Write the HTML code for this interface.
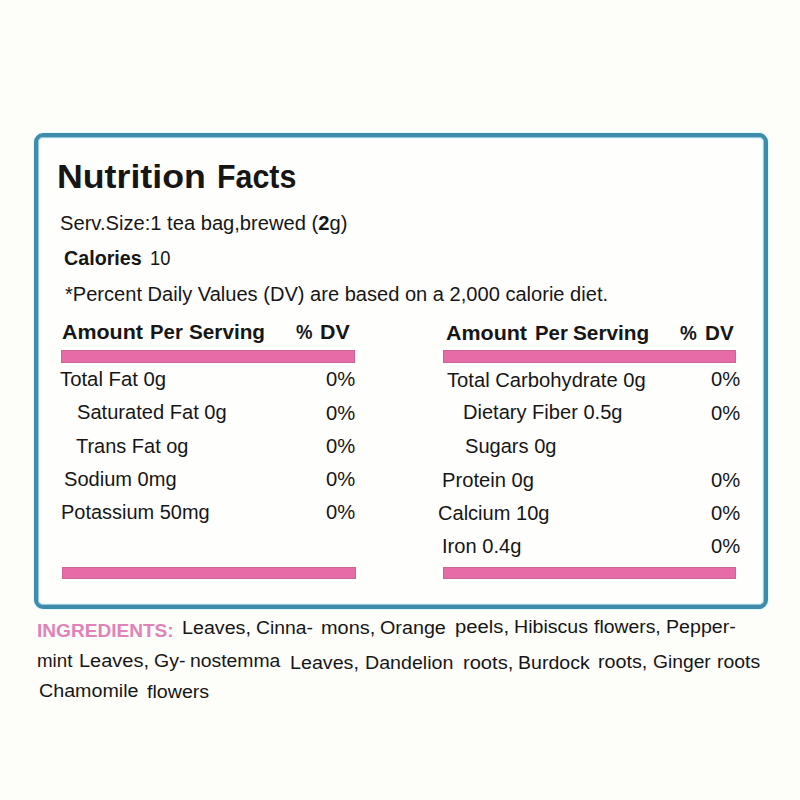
<!DOCTYPE html><html><head><meta charset="utf-8"><style>
html,body{margin:0;padding:0;width:800px;height:800px;overflow:hidden;background:#fdfdfa;}
body{position:relative;font-family:"Liberation Sans",sans-serif;}
.t{position:absolute;white-space:pre;transform-origin:0 0;}
.r{position:absolute;box-shadow:inset 0 0 0 1px rgba(140,90,115,0.3);}
.box{position:absolute;left:34px;top:133px;width:726px;height:468px;border:4px solid #3f8bab;border-radius:9px;background:#fefefd;box-shadow:0 0 0 1px rgba(210,248,255,0.7), inset 0 0 0 1px rgba(66,137,168,0.45), inset 0 0 0 2px rgba(210,248,255,0.6);}
</style></head><body>
<div class="box"></div>
<div class="r" style="left:61.4px;top:350.0px;width:293.6px;height:12.7px;background:#e76ba6"></div>
<div class="r" style="left:443.3px;top:350.0px;width:292.6px;height:12.8px;background:#e76ba6"></div>
<div class="r" style="left:62.4px;top:566.8px;width:293.5px;height:12.4px;background:#e76ba6"></div>
<div class="r" style="left:443.1px;top:566.8px;width:292.8px;height:12.5px;background:#e76ba6"></div>
<div class="t" id="titlea" style="left:56.87px;top:160.04px;font-size:33.50px;line-height:33.50px;font-weight:700;color:#161616;transform:scaleX(1.0662)">Nutrition</div>
<div class="t" id="titleb" style="left:217.19px;top:160.04px;font-size:33.50px;line-height:33.50px;font-weight:700;color:#161616;transform:scaleX(0.9064)">Facts</div>
<div class="t" id="serv" style="left:60.00px;top:212.57px;font-size:20.00px;line-height:20.00px;font-weight:400;color:#161616;transform:scaleX(1.0070)">Serv.Size:1 tea bag,brewed (<b>2</b>g)</div>
<div class="t" id="cala" style="left:64.21px;top:247.57px;font-size:20.00px;line-height:20.00px;font-weight:700;color:#161616;transform:scaleX(0.9847)">Calories</div>
<div class="t" id="calb" style="left:149.50px;top:247.57px;font-size:20.00px;line-height:20.00px;font-weight:400;color:#161616;transform:scaleX(0.9127)">10</div>
<div class="t" id="pct" style="left:65.00px;top:284.47px;font-size:20.00px;line-height:20.00px;font-weight:400;color:#161616;transform:scaleX(1.0037)">*Percent Daily Values (DV) are based on a 2,000 calorie diet.</div>
<div class="t" id="aps1a" style="left:62.00px;top:321.87px;font-size:20.00px;line-height:20.00px;font-weight:700;color:#161616;transform:scaleX(1.0713)">Amount</div>
<div class="t" id="aps1b" style="left:149.97px;top:321.87px;font-size:20.00px;line-height:20.00px;font-weight:700;color:#161616;transform:scaleX(1.0172)">Per</div>
<div class="t" id="aps1c" style="left:189.00px;top:321.87px;font-size:20.00px;line-height:20.00px;font-weight:700;color:#161616;transform:scaleX(1.0363)">Serving</div>
<div class="t" id="dv1a" style="left:296.02px;top:321.87px;font-size:20.00px;line-height:20.00px;font-weight:700;color:#161616;transform:scaleX(0.9275)">%</div>
<div class="t" id="dv1b" style="left:319.93px;top:321.87px;font-size:20.00px;line-height:20.00px;font-weight:700;color:#161616;transform:scaleX(1.0675)">DV</div>
<div class="t" id="aps2a" style="left:445.95px;top:322.77px;font-size:20.00px;line-height:20.00px;font-weight:700;color:#161616;transform:scaleX(1.0722)">Amount</div>
<div class="t" id="aps2b" style="left:534.99px;top:322.77px;font-size:20.00px;line-height:20.00px;font-weight:700;color:#161616;transform:scaleX(1.0172)">Per</div>
<div class="t" id="aps2c" style="left:572.96px;top:322.77px;font-size:20.00px;line-height:20.00px;font-weight:700;color:#161616;transform:scaleX(1.0390)">Serving</div>
<div class="t" id="dv2a" style="left:680.00px;top:322.57px;font-size:20.00px;line-height:20.00px;font-weight:700;color:#161616;transform:scaleX(0.9444)">%</div>
<div class="t" id="dv2b" style="left:704.97px;top:322.57px;font-size:20.00px;line-height:20.00px;font-weight:700;color:#161616;transform:scaleX(1.0305)">DV</div>
<div class="t" id="l1" style="left:59.79px;top:369.24px;font-size:20.50px;line-height:20.50px;font-weight:400;color:#161616;transform:scaleX(0.9912)">Total Fat 0g</div>
<div class="t" id="l2" style="left:76.80px;top:402.24px;font-size:20.50px;line-height:20.50px;font-weight:400;color:#161616;transform:scaleX(0.9802)">Saturated Fat 0g</div>
<div class="t" id="l3" style="left:75.81px;top:435.94px;font-size:20.50px;line-height:20.50px;font-weight:400;color:#161616;transform:scaleX(0.9738)">Trans Fat og</div>
<div class="t" id="l4" style="left:63.81px;top:468.64px;font-size:20.50px;line-height:20.50px;font-weight:400;color:#161616;transform:scaleX(0.9783)">Sodium 0mg</div>
<div class="t" id="l5" style="left:61.03px;top:501.94px;font-size:20.50px;line-height:20.50px;font-weight:400;color:#161616;transform:scaleX(0.9735)">Potassium 50mg</div>
<div class="t" id="p1" style="left:325.97px;top:369.14px;font-size:20.50px;line-height:20.50px;font-weight:400;color:#161616;transform:scaleX(0.9860)">0%</div>
<div class="t" id="p2" style="left:325.97px;top:402.64px;font-size:20.50px;line-height:20.50px;font-weight:400;color:#161616;transform:scaleX(0.9860)">0%</div>
<div class="t" id="p3" style="left:325.97px;top:435.94px;font-size:20.50px;line-height:20.50px;font-weight:400;color:#161616;transform:scaleX(0.9860)">0%</div>
<div class="t" id="p4" style="left:325.97px;top:469.24px;font-size:20.50px;line-height:20.50px;font-weight:400;color:#161616;transform:scaleX(0.9860)">0%</div>
<div class="t" id="p5" style="left:325.97px;top:502.14px;font-size:20.50px;line-height:20.50px;font-weight:400;color:#161616;transform:scaleX(0.9860)">0%</div>
<div class="t" id="r1" style="left:446.79px;top:369.64px;font-size:20.50px;line-height:20.50px;font-weight:400;color:#161616;transform:scaleX(0.9854)">Total Carbohydrate 0g</div>
<div class="t" id="r2" style="left:462.80px;top:402.44px;font-size:20.50px;line-height:20.50px;font-weight:400;color:#161616;transform:scaleX(0.9786)">Dietary Fiber 0.5g</div>
<div class="t" id="r3" style="left:464.81px;top:436.14px;font-size:20.50px;line-height:20.50px;font-weight:400;color:#161616;transform:scaleX(0.9785)">Sugars 0g</div>
<div class="t" id="r4" style="left:442.02px;top:469.84px;font-size:20.50px;line-height:20.50px;font-weight:400;color:#161616;transform:scaleX(0.9841)">Protein 0g</div>
<div class="t" id="r5" style="left:438.03px;top:502.64px;font-size:20.50px;line-height:20.50px;font-weight:400;color:#161616;transform:scaleX(0.9782)">Calcium 10g</div>
<div class="t" id="r6" style="left:442.01px;top:535.64px;font-size:20.50px;line-height:20.50px;font-weight:400;color:#161616;transform:scaleX(0.9816)">Iron 0.4g</div>
<div class="t" id="q1" style="left:711.01px;top:369.44px;font-size:20.50px;line-height:20.50px;font-weight:400;color:#161616;transform:scaleX(0.9860)">0%</div>
<div class="t" id="q2" style="left:711.01px;top:402.64px;font-size:20.50px;line-height:20.50px;font-weight:400;color:#161616;transform:scaleX(0.9860)">0%</div>
<div class="t" id="q4" style="left:711.01px;top:469.64px;font-size:20.50px;line-height:20.50px;font-weight:400;color:#161616;transform:scaleX(0.9860)">0%</div>
<div class="t" id="q5" style="left:711.01px;top:502.64px;font-size:20.50px;line-height:20.50px;font-weight:400;color:#161616;transform:scaleX(0.9860)">0%</div>
<div class="t" id="q6" style="left:711.01px;top:535.64px;font-size:20.50px;line-height:20.50px;font-weight:400;color:#161616;transform:scaleX(0.9860)">0%</div>
<div class="t" id="ing" style="left:36.97px;top:621.54px;font-size:18.50px;line-height:18.50px;font-weight:700;color:#de84b8;transform:scaleX(1.0308)">INGREDIENTS:</div>
<div class="t" id="i1a" style="left:181.88px;top:619.68px;font-size:17.50px;line-height:17.50px;font-weight:400;color:#161616;transform:scaleX(1.1246)">Leaves,</div>
<div class="t" id="i1b" style="left:256.32px;top:619.68px;font-size:17.50px;line-height:17.50px;font-weight:400;color:#161616;transform:scaleX(1.1045)">Cinna-</div>
<div class="t" id="i1c" style="left:320.86px;top:619.68px;font-size:17.50px;line-height:17.50px;font-weight:400;color:#161616;transform:scaleX(1.1380)">mons,</div>
<div class="t" id="i1d" style="left:379.87px;top:619.68px;font-size:17.50px;line-height:17.50px;font-weight:400;color:#161616;transform:scaleX(1.1281)">Orange</div>
<div class="t" id="i1e" style="left:454.84px;top:618.88px;font-size:17.50px;line-height:17.50px;font-weight:400;color:#161616;transform:scaleX(1.1564)">peels,</div>
<div class="t" id="i1f" style="left:513.79px;top:618.68px;font-size:17.50px;line-height:17.50px;font-weight:400;color:#161616;transform:scaleX(1.1188)">Hibiscus</div>
<div class="t" id="i1g" style="left:594.00px;top:618.68px;font-size:17.50px;line-height:17.50px;font-weight:400;color:#161616;transform:scaleX(1.1071)">flowers,</div>
<div class="t" id="i1h" style="left:665.88px;top:618.68px;font-size:17.50px;line-height:17.50px;font-weight:400;color:#161616;transform:scaleX(1.1203)">Pepper-</div>
<div class="t" id="i2a" style="left:36.93px;top:653.28px;font-size:17.50px;line-height:17.50px;font-weight:400;color:#161616;transform:scaleX(1.0706)">mint</div>
<div class="t" id="i2b" style="left:79.36px;top:653.28px;font-size:17.50px;line-height:17.50px;font-weight:400;color:#161616;transform:scaleX(1.1426)">Leaves,</div>
<div class="t" id="i2c" style="left:153.67px;top:653.28px;font-size:17.50px;line-height:17.50px;font-weight:400;color:#161616;transform:scaleX(1.1148)">Gy-</div>
<div class="t" id="i2d" style="left:189.52px;top:652.98px;font-size:17.50px;line-height:17.50px;font-weight:400;color:#161616;transform:scaleX(1.1062)">nostemma</div>
<div class="t" id="i2e" style="left:289.88px;top:655.48px;font-size:17.50px;line-height:17.50px;font-weight:400;color:#161616;transform:scaleX(1.1243)">Leaves,</div>
<div class="t" id="i2f" style="left:364.88px;top:655.48px;font-size:17.50px;line-height:17.50px;font-weight:400;color:#161616;transform:scaleX(1.1213)">Dandelion</div>
<div class="t" id="i2g" style="left:462.58px;top:654.68px;font-size:17.50px;line-height:17.50px;font-weight:400;color:#161616;transform:scaleX(1.1484)">roots,</div>
<div class="t" id="i2h" style="left:517.88px;top:654.68px;font-size:17.50px;line-height:17.50px;font-weight:400;color:#161616;transform:scaleX(1.1163)">Burdock</div>
<div class="t" id="i2i" style="left:597.87px;top:654.38px;font-size:17.50px;line-height:17.50px;font-weight:400;color:#161616;transform:scaleX(1.1266)">roots,</div>
<div class="t" id="i2j" style="left:652.60px;top:654.08px;font-size:17.50px;line-height:17.50px;font-weight:400;color:#161616;transform:scaleX(1.1000)">Ginger</div>
<div class="t" id="i2k" style="left:716.89px;top:654.08px;font-size:17.50px;line-height:17.50px;font-weight:400;color:#161616;transform:scaleX(1.1087)">roots</div>
<div class="t" id="i3a" style="left:38.95px;top:683.38px;font-size:17.50px;line-height:17.50px;font-weight:400;color:#161616;transform:scaleX(1.1248)">Chamomile</div>
<div class="t" id="i3b" style="left:147.06px;top:683.68px;font-size:17.50px;line-height:17.50px;font-weight:400;color:#161616;transform:scaleX(1.1216)">flowers</div>
</body></html>
